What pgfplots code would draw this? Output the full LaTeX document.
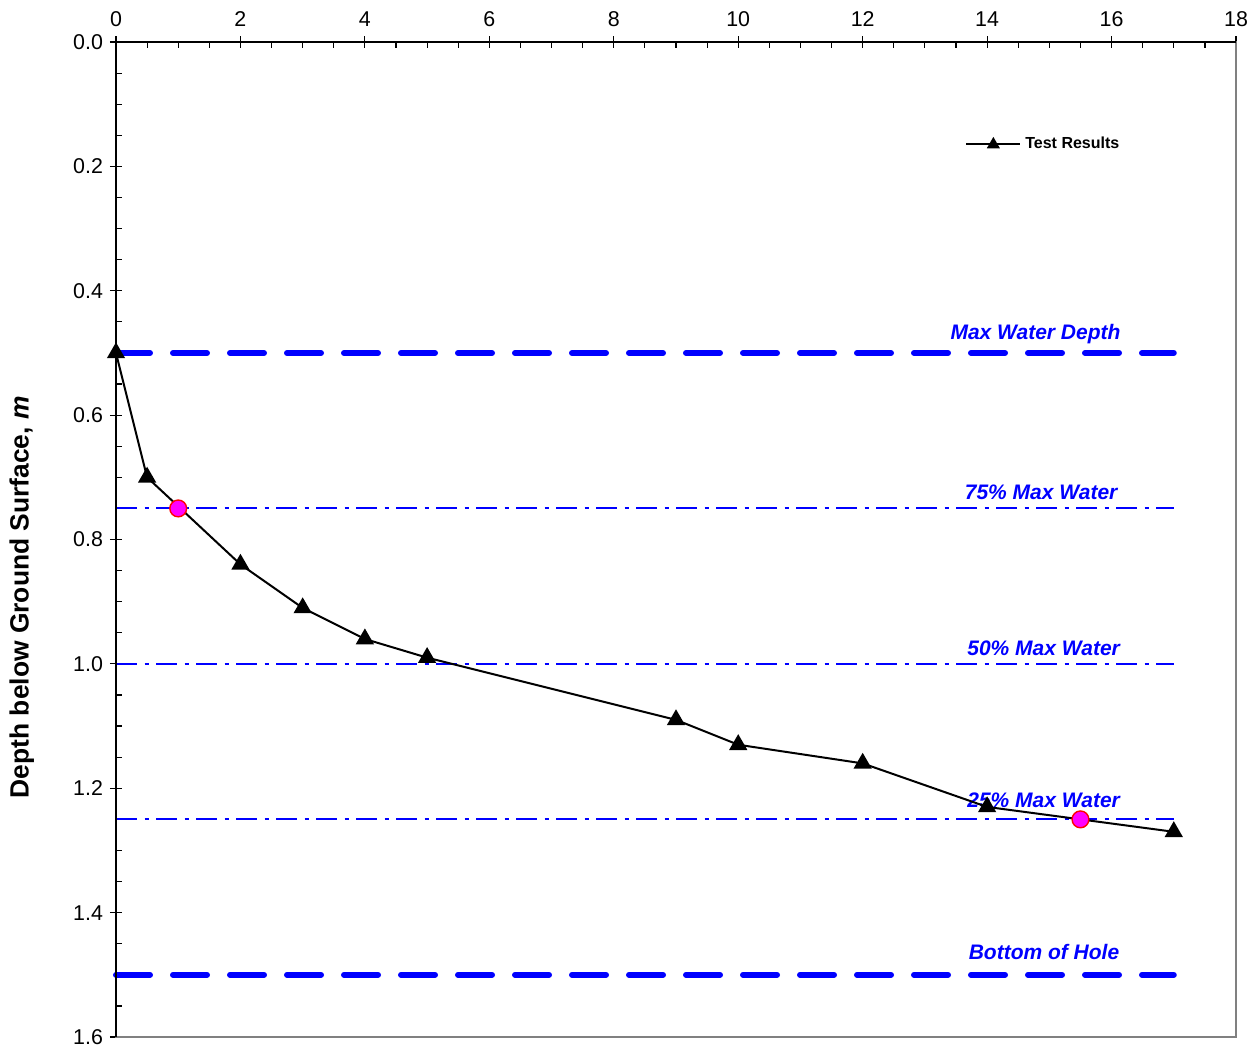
\documentclass[border=0pt]{standalone}
\usepackage{pgfplots}
\pgfplotsset{compat=1.18}
\usepackage{fontspec}
\setmainfont{Liberation Sans}
\usetikzlibrary{calc}
\definecolor{lblue}{RGB}{0,0,255}
\definecolor{pinkm}{RGB}{255,0,255}
\definecolor{frgray}{RGB}{128,128,128}
\begin{document}
\begin{tikzpicture}
\begin{axis}[
  scale only axis, width=560pt, height=497.5pt,
  xmin=0, xmax=18, ymin=0, ymax=1.6, y dir=reverse,
  xtick={0,2,...,18}, ytick={0,0.2,0.4,0.6,0.8,1.0,1.2,1.4,1.6},
  minor x tick num=3, minor y tick num=3,
  xtick pos=right, xticklabel pos=right,
  ytick pos=left, yticklabel pos=left,
  axis line style={draw=frgray, line width=1.2pt},
  tick style={black, line width=0.6pt},
  major tick length=6pt, minor tick length=3pt, tick align=inside,
  every major x tick/.append style={yshift=3pt},
  every major y tick/.append style={xshift=-3pt},
  yticklabel style={xshift=-3pt, /pgf/number format/.cd, fixed, fixed zerofill, precision=1},
  xticklabel style={yshift=4pt},
  /pgf/number format/assume math mode=true,
  tick label style={font=\fontsize{10.7}{12}\selectfont},
  ylabel={Depth below Ground Surface, \textit{m}},
  ylabel style={font=\fontsize{13.2}{15}\selectfont\bfseries, at={(axis description cs:-0.084,0.442)}, anchor=center},
  legend style={at={(axis description cs:0.758,0.897)}, anchor=west, draw=none, fill=none,
    font=\fontsize{8}{10}\selectfont\bfseries, inner sep=0pt},
  legend cell align=left,
  legend image code/.code={\draw[mark repeat=2,mark phase=2,#1,mark size=2.8pt] plot coordinates {(0pt,0pt) (13.5pt,0pt) (27pt,0pt)};},
  clip=false,
]
% reference lines
\addplot[lblue, line width=3pt, line cap=round, dash pattern=on 17pt off 11.5pt, forget plot] coordinates {(0,0.5) (17,0.5)};
\addplot[lblue, line width=1pt, dash pattern=on 10.5pt off 3.75pt on 2pt off 3.75pt, forget plot] coordinates {(0,0.75) (17,0.75)};
\addplot[lblue, line width=1pt, dash pattern=on 10.5pt off 3.75pt on 2pt off 3.75pt, forget plot] coordinates {(0,1.0) (17,1.0)};
\addplot[lblue, line width=1pt, dash pattern=on 10.5pt off 3.75pt on 2pt off 3.75pt, forget plot] coordinates {(0,1.25) (17,1.25)};
\addplot[lblue, line width=3pt, line cap=round, dash pattern=on 17pt off 11.5pt, forget plot] coordinates {(0,1.5) (17,1.5)};
% labels
\node[anchor=base east, text=lblue, font=\fontsize{10.5}{12}\selectfont\bfseries\itshape, inner sep=0pt] at (axis cs:16.15,0.479) {Max Water Depth};
\node[anchor=base east, text=lblue, font=\fontsize{10.5}{12}\selectfont\bfseries\itshape, inner sep=0pt] at (axis cs:16.1,0.735) {75\% Max Water};
\node[anchor=base east, text=lblue, font=\fontsize{10.5}{12}\selectfont\bfseries\itshape, inner sep=0pt] at (axis cs:16.14,0.987) {50\% Max Water};
\node[anchor=base east, text=lblue, font=\fontsize{10.5}{12}\selectfont\bfseries\itshape, inner sep=0pt] at (axis cs:16.14,1.231) {25\% Max Water};
\node[anchor=base east, text=lblue, font=\fontsize{10.5}{12}\selectfont\bfseries\itshape, inner sep=0pt] at (axis cs:16.13,1.476) {Bottom of Hole};
% test results
\addplot[black, line width=1pt, mark=triangle*, mark size=4.3pt, mark options={solid}]
  coordinates {(0,0.5) (0.5,0.7) (2,0.84) (3,0.91) (4,0.96) (5,0.99) (9,1.09) (10,1.13) (12,1.16) (14,1.23) (17,1.27)};
\addlegendentry{Test Results}
% highlighted points
\addplot[only marks, mark=*, mark size=4.2pt, mark options={fill=pinkm, draw=red, line width=0.7pt}, forget plot]
  coordinates {(1,0.75) (15.5,1.25)};
\draw[black, line width=0.9pt] (axis description cs:0,0) -- (axis description cs:0,1) -- (axis description cs:1,1);
\coordinate (bl) at (axis description cs:0,0);
\coordinate (tr) at (axis description cs:1,1);
\end{axis}
\pgfresetboundingbox
\path[use as bounding box] ($(bl)+(-58pt,-4.5pt)$) rectangle ($(tr)+(10.5pt,21pt)$);
\end{tikzpicture}
\end{document}
